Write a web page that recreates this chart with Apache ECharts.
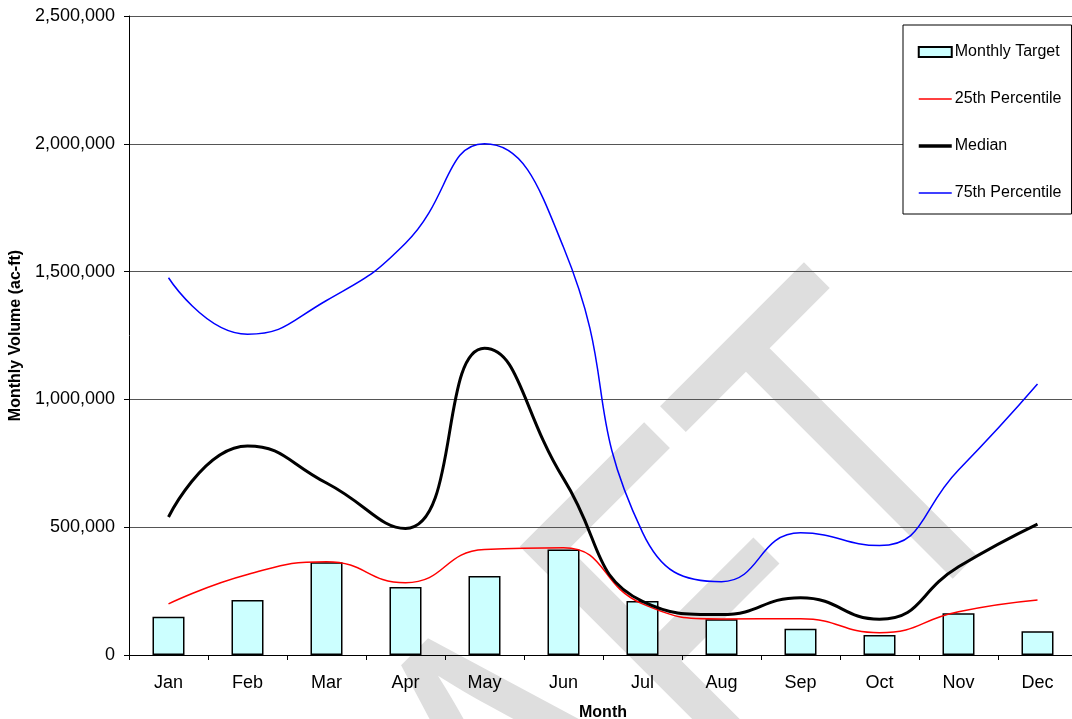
<!DOCTYPE html>
<html>
<head>
<meta charset="utf-8" />
<title>Monthly Volume</title>
<script src="https://cdn.jsdelivr.net/npm/echarts@6/dist/echarts.min.js"></script>
<style>html,body{margin:0;padding:0;background:#fff;}</style>
</head>
<body>
<div id="main" style="width:1072px;height:719px;"></div>
<script>
// data
const months = ["Jan", "Feb", "Mar", "Apr", "May", "Jun", "Jul", "Aug", "Sep", "Oct", "Nov", "Dec"];
const monthlyTarget = [150000, 215000, 363000, 266000, 309000, 413000, 211000, 140000, 103000, 78000, 163000, 93000];
const pct25 = [200000, 315000, 365000, 283000, 413000, 420000, 200000, 141000, 142000, 87000, 169000, 215000];
const median = [540000, 818000, 673000, 495000, 1200000, 690000, 210000, 158000, 224000, 140000, 345000, 512000];
const pct75 = [1476000, 1255000, 1387000, 1611000, 2000000, 1595000, 480000, 287000, 478000, 428000, 724000, 1060000];
const yMax = 2500000;
const yStep = 500000;

const font = "'Liberation Sans', Arial, sans-serif";
const chart = echarts.init(document.getElementById("main"));

// line legend entries: hide the symbol, keep the line
const lineLegend = (name, w) => ({ name: name, itemStyle: { opacity: 0 }, lineStyle: { width: w } });

const option = {
  animation: false,
  backgroundColor: "#fff",
  textStyle: { fontFamily: font, color: "#000" },
  // DRAFT watermark behind everything
  graphic: [{
    type: "text",
    x: 525, y: 820,
    rotation: Math.PI / 4,
    scaleX: 0.753,
    z: -10,
    silent: true,
    style: {
      text: "DRAFT",
      font: "478px " + font,
      fill: "#dedede",
      align: "center",
      verticalAlign: "middle"
    }
  }],
  grid: { left: 129, top: 16, width: 948, height: 639, outerBoundsMode: "none" },
  legend: {
    orient: "vertical",
    left: 903,
    top: 25,
    padding: [19, 10, 13, 14],
    itemGap: 31,
    itemWidth: 33,
    itemHeight: 10,
    backgroundColor: "#fff",
    borderColor: "#000",
    borderWidth: 1,
    textStyle: { fontFamily: font, fontSize: 16, color: "#000", padding: [0, 0, 0, -2] },
    data: [
      { name: "Monthly Target", icon: "rect" },
      lineLegend("25th Percentile", 1.5),
      lineLegend("Median", 3.5),
      lineLegend("75th Percentile", 1.5)
    ]
  },
  xAxis: {
    type: "category",
    data: months,
    name: "Month",
    nameLocation: "middle",
    nameGap: 50,
    nameTextStyle: { fontFamily: font, fontSize: 16, fontWeight: "bold", color: "#000" },
    axisLine: { lineStyle: { color: "#000", width: 1 } },
    axisTick: { show: true, length: 5, lineStyle: { color: "#000" } },
    axisLabel: { fontSize: 18, color: "#000", margin: 19 },
    splitLine: { show: false }
  },
  yAxis: {
    type: "value",
    min: 0,
    max: yMax,
    interval: yStep,
    name: "Monthly Volume (ac-ft)",
    nameLocation: "middle",
    nameGap: 96,
    nameTextStyle: { fontFamily: font, fontSize: 16, fontWeight: "bold", color: "#000" },
    axisLine: { show: true, lineStyle: { color: "#000", width: 1 } },
    axisTick: { show: true, length: 5, lineStyle: { color: "#000" } },
    axisLabel: {
      fontSize: 18, color: "#000", margin: 14,
      formatter: v => v.toLocaleString("en-US")
    },
    splitLine: { show: true, lineStyle: { color: "#555", width: 1 } }
  },
  series: [
    {
      name: "Monthly Target",
      type: "bar",
      data: monthlyTarget,
      barWidth: 32,
      itemStyle: { color: "#ccffff", borderColor: "#000", borderWidth: 1.5 }
    },
    {
      name: "25th Percentile",
      type: "line",
      data: pct25,
      smooth: 0.5,
      symbol: "none",
      lineStyle: { color: "#ff0000", width: 1.5 },
      itemStyle: { color: "#ff0000" }
    },
    {
      name: "Median",
      type: "line",
      data: median,
      smooth: 0.5,
      symbol: "none",
      lineStyle: { color: "#000", width: 3 },
      itemStyle: { color: "#000" }
    },
    {
      name: "75th Percentile",
      type: "line",
      data: pct75,
      smooth: 0.5,
      symbol: "none",
      lineStyle: { color: "#0000ff", width: 1.5 },
      itemStyle: { color: "#0000ff" }
    }
  ]
};

chart.setOption(option);
</script>
</body>
</html>
